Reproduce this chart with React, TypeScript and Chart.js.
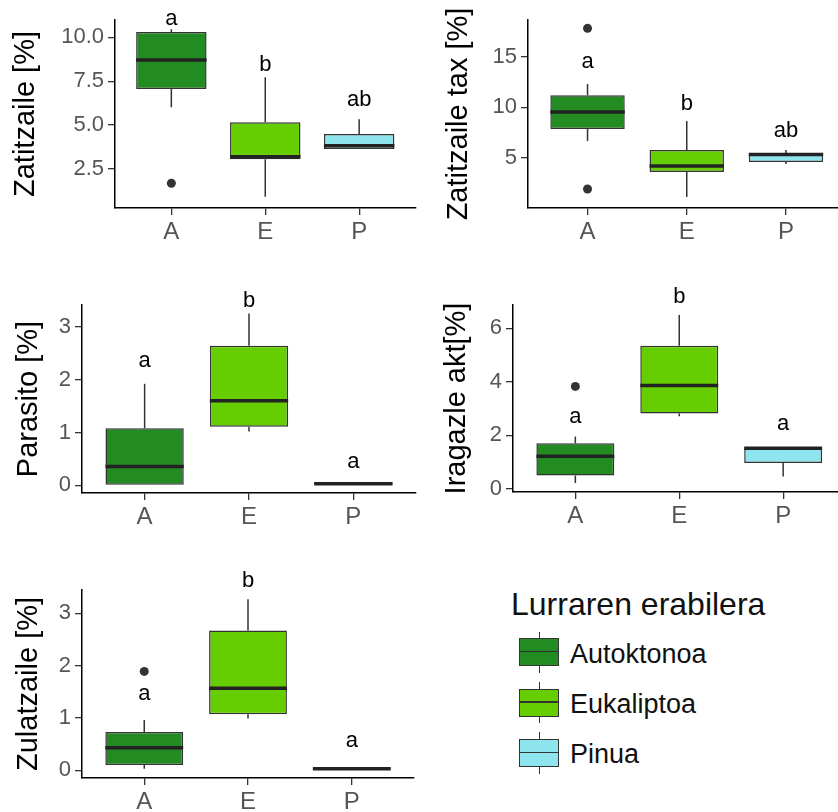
import React, { useEffect, useRef } from 'react';
import { Chart, registerables } from 'chart.js';

Chart.register(...registerables);
Chart.defaults.font.family = '"Liberation Sans", Arial, sans-serif';

const groups = ['A', 'E', 'P'];
const landUse = ['Autoktonoa', 'Eukaliptoa', 'Pinua'];
const fillColors = ['#228B22', '#66CD00', '#8EE5EE'];
const legendTitle = 'Lurraren erabilera';

// each box: [lower whisker, Q1, median, Q3, upper whisker]
const zatitzaileBoxes = [
  [6.02, 7.06, 8.71, 10.3, 10.47],
  [0.92, 3.05, 3.2, 5.17, 7.73],
  [3.64, 3.64, 3.83, 4.49, 5.34],
];
const zatitzaileOutliers = [[1.69], [], []];
const zatitzaileLetters = ['a', 'b', 'ab'];
const zatitzaileLetterY = [10.68, 8.07, 6.08];
const zatitzaileTicks = [2.5, 5, 7.5, 10];

const zatitzaileTaxBoxes = [
  [6.68, 7.86, 9.54, 11.2, 12.3],
  [1.15, 3.62, 4.21, 5.79, 8.65],
  [4.4, 4.6, 5.35, 5.4, 5.79],
];
const zatitzaileTaxOutliers = [[17.8, 1.94], [], []];
const zatitzaileTaxLetters = ['a', 'b', 'ab'];
const zatitzaileTaxLetterY = [13.9, 9.73, 7.07];
const zatitzaileTaxTicks = [5, 10, 15];

const parasitoBoxes = [
  [0, 0, 0.36, 1.08, 1.92],
  [1.02, 1.11, 1.6, 2.64, 3.25],
  [0, 0, 0.03, 0.06, 0.06],
];
const parasitoOutliers = [[], [], []];
const parasitoLetters = ['a', 'b', 'a'];
const parasitoLetterY = [2.24, 3.37, 0.33];
const parasitoTicks = [0, 1, 2, 3];

const iragazleBoxes = [
  [0.22, 0.5, 1.22, 1.71, 1.96],
  [2.72, 2.82, 3.86, 5.35, 6.5],
  [0.47, 0.97, 1.52, 1.56, 1.56],
];
const iragazleOutliers = [[3.83], [], []];
const iragazleLetters = ['a', 'b', 'a'];
const iragazleLetterY = [2.47, 6.94, 2.21];
const iragazleTicks = [0, 2, 4, 6];

const zulatzaileBoxes = [
  [0.03, 0.1, 0.43, 0.73, 0.96],
  [0.99, 1.07, 1.57, 2.67, 3.27],
  [0, 0, 0.03, 0.05, 0.06],
];
const zulatzaileOutliers = [[1.89], [], []];
const zulatzaileLetters = ['a', 'b', 'a'];
const zulatzaileLetterY = [1.34, 3.5, 0.44];
const zulatzaileTicks = [0, 1, 2, 3];

type PanelSpec = {
  title: string;
  boxes: number[][];
  outliers: number[][];
  letters: string[];
  letterY: number[];
  ticks: number[];
  decimals: number;
  min: number;
  max: number;
  left: number;
  top: number;
  w: number;
  h: number;
  yW: number;
  xH: number;
  padTop: number;
  padRight: number;
  titlePad: number;
};

const panels: PanelSpec[] = [
  {
    title: 'Zatitzaile [%]', boxes: zatitzaileBoxes, outliers: zatitzaileOutliers,
    letters: zatitzaileLetters, letterY: zatitzaileLetterY, ticks: zatitzaileTicks, decimals: 1,
    min: 0.279, max: 10.99,
    left: 0, top: 0, w: 420, h: 270, yW: 115, xH: 62, padTop: 20, padRight: 3, titlePad: 9,
  },
  {
    title: 'Zatitzaile tax [%]', boxes: zatitzaileTaxBoxes, outliers: zatitzaileTaxOutliers,
    letters: zatitzaileTaxLetters, letterY: zatitzaileTaxLetterY, ticks: zatitzaileTaxTicks, decimals: 0,
    min: 0.064, max: 18.62,
    left: 420, top: 0, w: 430, h: 270, yW: 108, xH: 62, padTop: 20, padRight: 2, titlePad: 22,
  },
  {
    title: 'Parasito [%]', boxes: parasitoBoxes, outliers: parasitoOutliers,
    letters: parasitoLetters, letterY: parasitoLetterY, ticks: parasitoTicks, decimals: 0,
    min: -0.143, max: 3.41,
    left: 0, top: 280, w: 420, h: 260, yW: 82, xH: 47, padTop: 25, padRight: 4, titlePad: 12,
  },
  {
    title: 'Iragazle akt[%]', boxes: iragazleBoxes, outliers: iragazleOutliers,
    letters: iragazleLetters, letterY: iragazleLetterY, ticks: iragazleTicks, decimals: 0,
    min: -0.112, max: 6.87,
    left: 420, top: 280, w: 430, h: 260, yW: 93, xH: 48, padTop: 25, padRight: 2, titlePad: 20,
  },
  {
    title: 'Zulatzaile [%]', boxes: zulatzaileBoxes, outliers: zulatzaileOutliers,
    letters: zulatzaileLetters, letterY: zulatzaileLetterY, ticks: zulatzaileTicks, decimals: 0,
    min: -0.147, max: 3.446,
    left: 0, top: 540, w: 420, h: 272, yW: 82, xH: 34, padTop: 50, padRight: 6, titlePad: 12,
  },
];

const BOX_WIDTH = 0.75;

function makeExtras(p: PanelSpec) {
  return {
    id: 'boxExtras',
    beforeDatasetsDraw(chart: any) {
      const { ctx } = chart;
      const x = chart.scales.x;
      const y = chart.scales.y;
      ctx.save();
      ctx.strokeStyle = '#333333';
      ctx.lineWidth = 1.5;
      p.boxes.forEach((b, i) => {
        const cx = x.getPixelForValue(i + 1);
        ctx.beginPath();
        ctx.moveTo(cx, y.getPixelForValue(b[0]));
        ctx.lineTo(cx, y.getPixelForValue(b[1]));
        ctx.moveTo(cx, y.getPixelForValue(b[3]));
        ctx.lineTo(cx, y.getPixelForValue(b[4]));
        ctx.stroke();
      });
      ctx.restore();
    },
    afterDatasetsDraw(chart: any) {
      const { ctx } = chart;
      const x = chart.scales.x;
      const y = chart.scales.y;
      ctx.save();
      ctx.strokeStyle = '#222222';
      ctx.lineWidth = 3.5;
      ctx.lineCap = 'butt';
      p.boxes.forEach((b, i) => {
        const x0 = x.getPixelForValue(i + 1 - BOX_WIDTH / 2);
        const x1 = x.getPixelForValue(i + 1 + BOX_WIDTH / 2);
        const my = y.getPixelForValue(b[2]);
        ctx.beginPath();
        ctx.moveTo(x0, my);
        ctx.lineTo(x1, my);
        ctx.stroke();
      });
      ctx.fillStyle = '#000000';
      ctx.font = '22px "Liberation Sans", Arial, sans-serif';
      ctx.textAlign = 'center';
      ctx.textBaseline = 'alphabetic';
      p.letters.forEach((t, i) => {
        ctx.fillText(t, x.getPixelForValue(i + 1), y.getPixelForValue(p.letterY[i]));
      });
      ctx.restore();
    },
  };
}

function BoxPanel({ p }: { p: PanelSpec }) {
  const ref = useRef<HTMLCanvasElement>(null);
  useEffect(() => {
    const outlierPts: { x: number; y: number }[] = [];
    p.outliers.forEach((arr, i) => arr.forEach((v) => outlierPts.push({ x: i + 1, y: v })));
    const gridCfg = {
      display: true,
      drawOnChartArea: false,
      drawTicks: true,
      tickLength: 7,
      color: '#333333',
      lineWidth: 1.3,
      offset: false,
    };
    const borderCfg = { display: true, color: '#000000', width: 1.5 };
    const chart = new Chart(ref.current as HTMLCanvasElement, {
      type: 'bar',
      data: {
        datasets: [
          {
            type: 'bar',
            data: p.boxes.map((b, i) => ({ x: i + 1, y: [b[1], b[3]] })) as any,
            backgroundColor: fillColors,
            borderColor: '#333333',
            borderWidth: 1.5,
            borderSkipped: false,
            categoryPercentage: 1,
            barPercentage: BOX_WIDTH,
            grouped: false,
            order: 2,
          } as any,
          {
            type: 'scatter',
            data: outlierPts,
            pointRadius: 4.5,
            pointBackgroundColor: '#333333',
            pointBorderWidth: 0,
            order: 1,
          } as any,
        ],
      },
      options: {
        responsive: false,
        animation: false,
        events: [],
        layout: { padding: { top: p.padTop, right: p.padRight, left: 0, bottom: 0 } },
        plugins: { legend: { display: false }, tooltip: { enabled: false } },
        scales: {
          x: {
            type: 'linear',
            min: 0.4,
            max: 3.6,
            offset: false,
            afterBuildTicks: (s: any) => {
              s.ticks = [1, 2, 3].map((v) => ({ value: v }));
            },
            afterFit: (s: any) => {
              s.height = p.xH;
            },
            ticks: {
              callback: (v: any) => groups[Math.round(Number(v)) - 1] ?? '',
              color: '#555555',
              font: { size: 24 },
              padding: 3,
              maxRotation: 0,
              autoSkip: false,
            },
            grid: gridCfg,
            border: borderCfg,
          },
          y: {
            type: 'linear',
            min: p.min,
            max: p.max,
            afterBuildTicks: (s: any) => {
              s.ticks = p.ticks.map((v) => ({ value: v }));
            },
            afterFit: (s: any) => {
              s.width = p.yW;
            },
            ticks: {
              callback: (v: any) => Number(v).toFixed(p.decimals),
              color: '#555555',
              font: { size: 22 },
              padding: 4,
            },
            grid: gridCfg,
            border: borderCfg,
            title: {
              display: true,
              text: p.title,
              color: '#000000',
              font: { size: 29 },
              padding: { top: p.titlePad, bottom: 0 },
            },
          },
        },
      } as any,
      plugins: [makeExtras(p)],
    });
    return () => chart.destroy();
  }, []);
  return (
    <canvas
      ref={ref}
      width={p.w}
      height={p.h}
      style={{ position: 'absolute', left: p.left, top: p.top, width: p.w, height: p.h }}
    />
  );
}

const legendBoxTops = [638.3, 688.6, 739];

function Legend() {
  const font = '"Liberation Sans", Arial, sans-serif';
  return (
    <>
      <div
        style={{
          position: 'absolute', left: 511, top: 588, fontFamily: font, fontSize: 32,
          lineHeight: '32px', color: '#111', whiteSpace: 'nowrap',
        }}
      >
        {legendTitle}
      </div>
      {landUse.map((name, i) => {
        const top = legendBoxTops[i];
        return (
          <React.Fragment key={name}>
            <div style={{ position: 'absolute', left: 538.5, top: top - 6.6, width: 1.5, height: 41.2, background: '#333' }} />
            <div
              style={{
                position: 'absolute', left: 519.3, top, width: 40, height: 28, background: fillColors[i],
                border: '1.5px solid #333', boxSizing: 'border-box',
              }}
            >
              <div style={{ position: 'absolute', left: 0, right: 0, top: 11.5, height: 1.5, background: '#333' }} />
            </div>
            <div
              style={{
                position: 'absolute', left: 570, top: top + 2.2, fontFamily: font, fontSize: 27,
                lineHeight: '27px', color: '#111', whiteSpace: 'nowrap',
              }}
            >
              {name}
            </div>
          </React.Fragment>
        );
      })}
    </>
  );
}

export default function App() {
  return (
    <div
      style={{
        position: 'absolute', left: 0, top: 0, width: 838, height: 812, overflow: 'hidden', background: '#fff',
      }}
    >
      {panels.map((p) => (
        <BoxPanel key={p.title} p={p} />
      ))}
      <Legend />
    </div>
  );
}
